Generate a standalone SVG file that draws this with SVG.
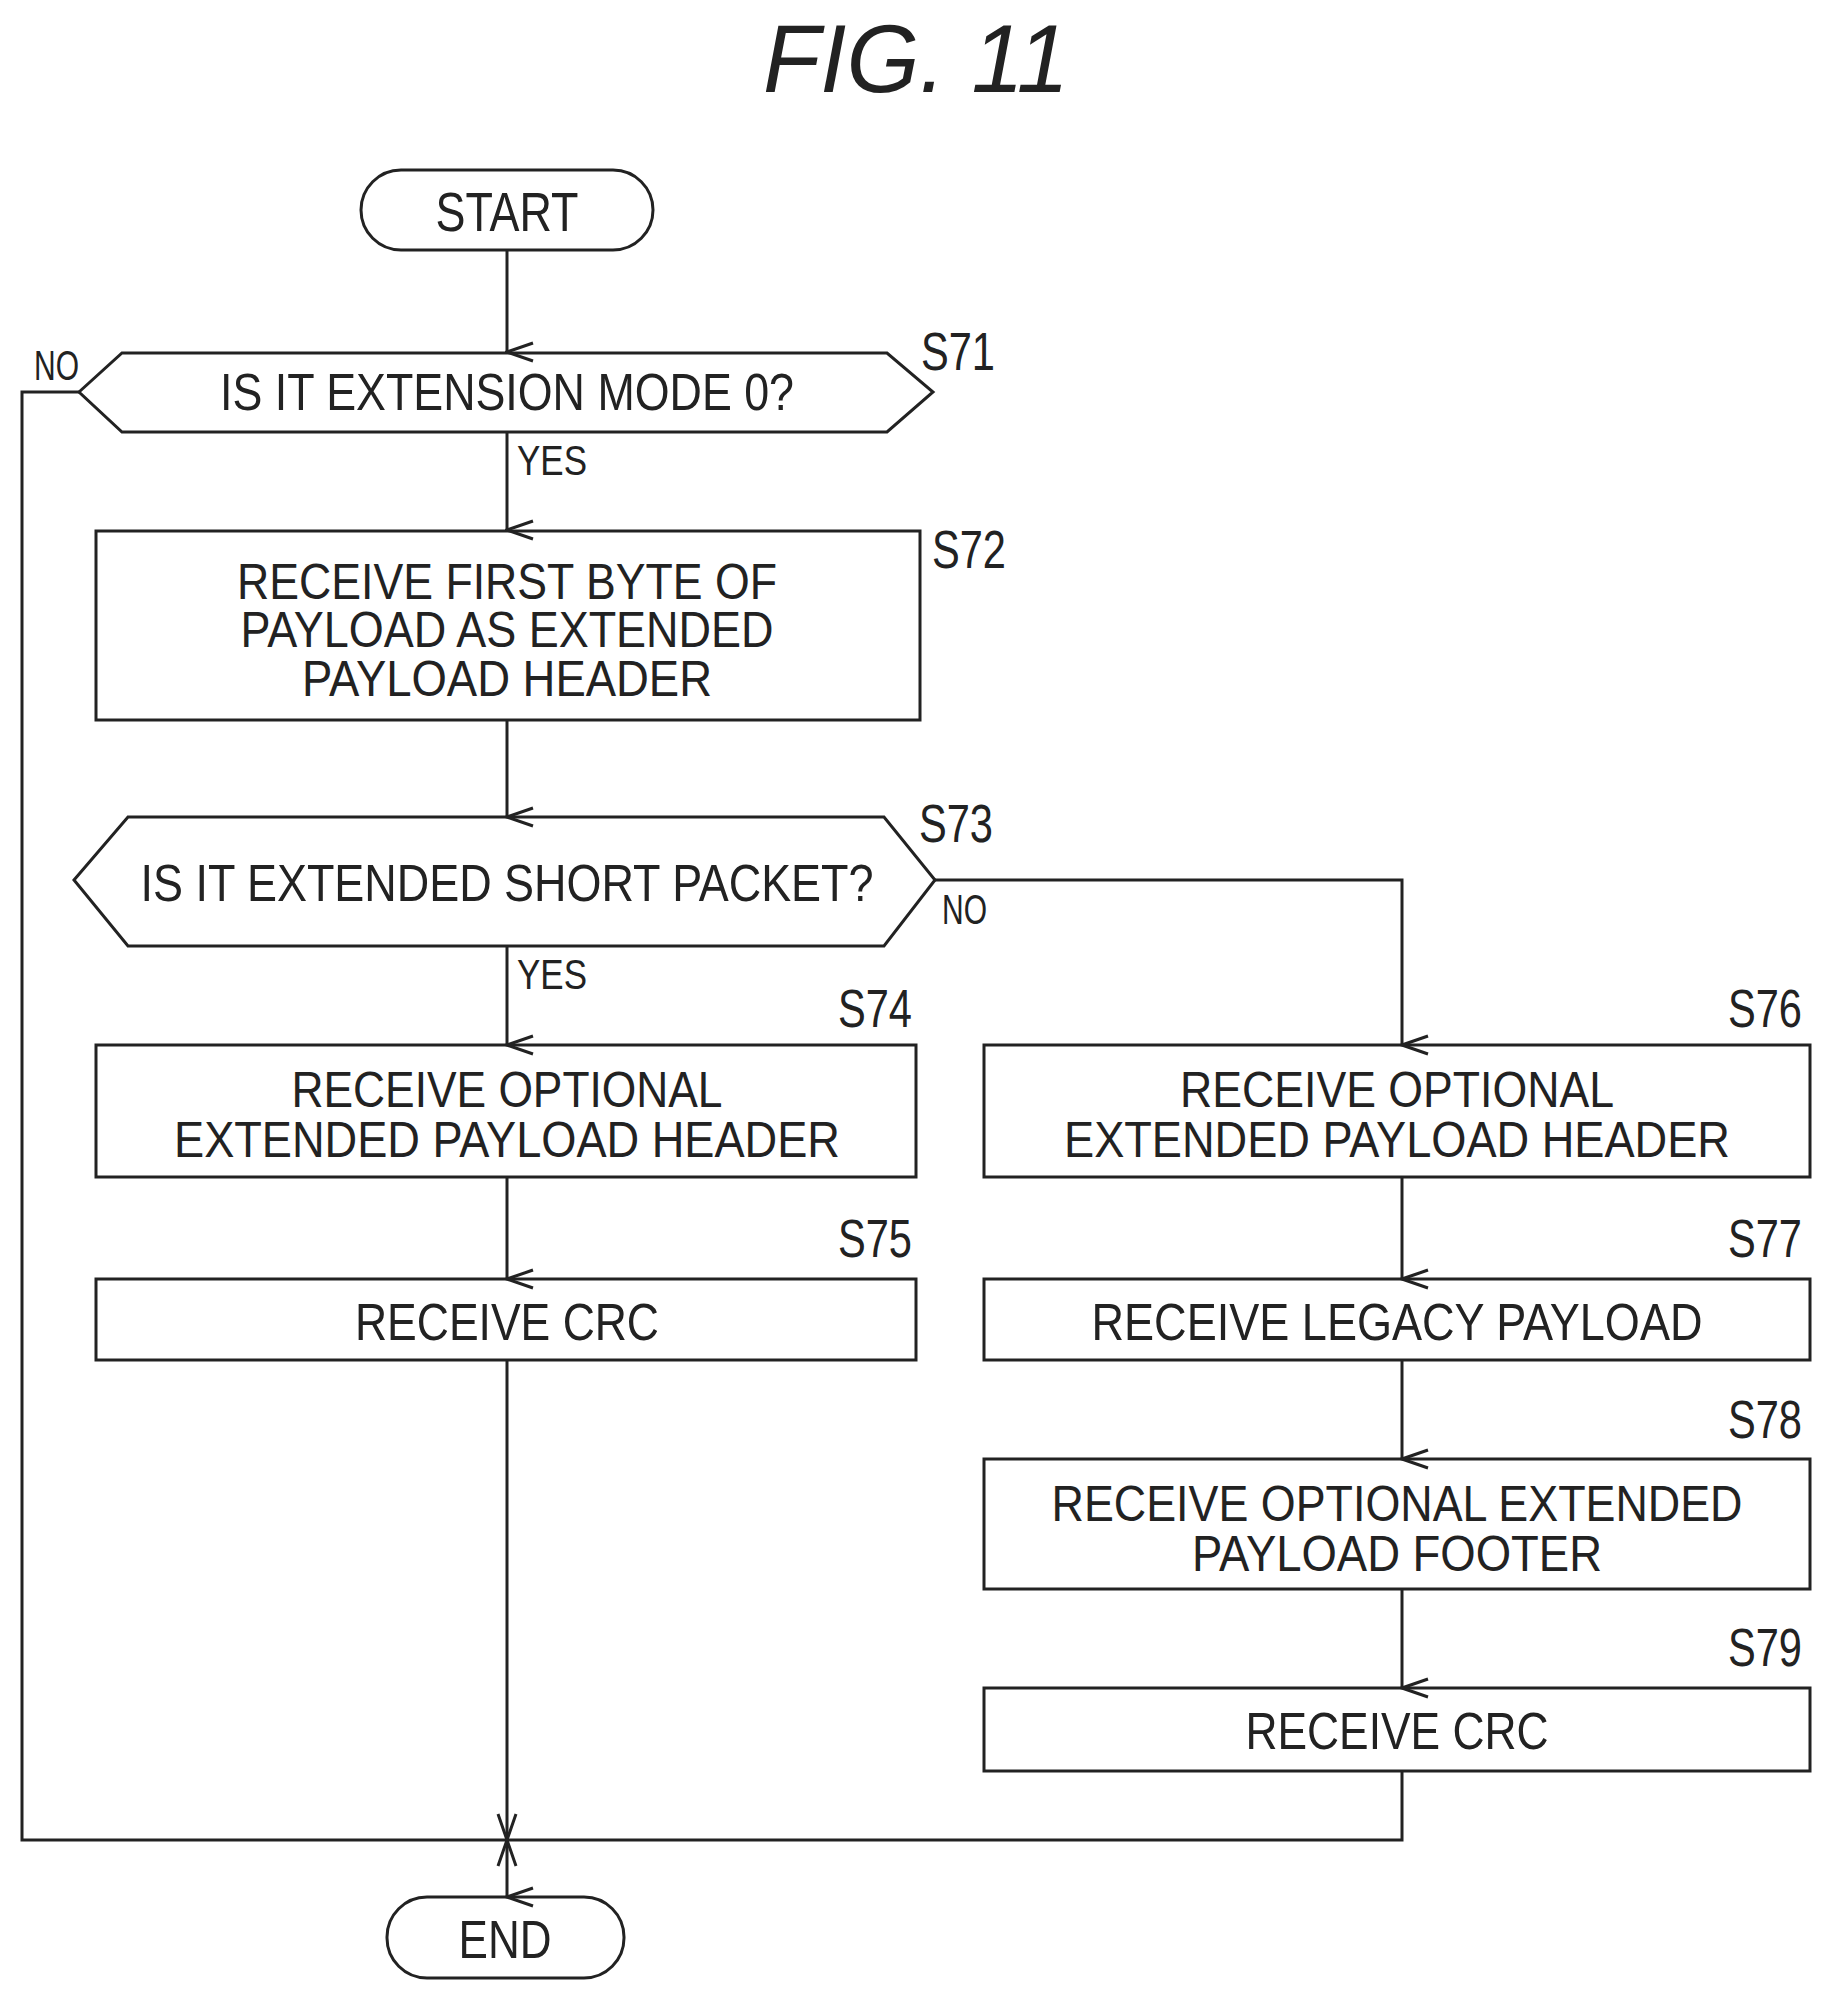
<svg xmlns="http://www.w3.org/2000/svg" width="1838" height="2012" viewBox="0 0 1838 2012">
<style>
.s{fill:none;stroke:#222;stroke-width:3}
.t{font-family:"Liberation Sans",Arial,sans-serif;font-size:50px;fill:#222;text-anchor:middle}
.l{font-family:"Liberation Sans",Arial,sans-serif;font-size:54px;fill:#222}
</style>
<defs>
<marker id="a" markerWidth="30" markerHeight="30" refX="15" refY="28" orient="auto-start-reverse" markerUnits="userSpaceOnUse" viewBox="0 0 30 30">
<polyline points="6,2 15,28 24,2" fill="none" stroke="#222" stroke-width="3"/>
</marker>
</defs>
<rect width="1838" height="2012" fill="#fff"/>
<text x="916" y="92" style="font-family:'Liberation Sans',Arial,sans-serif;font-size:96px;font-style:italic;fill:#222;text-anchor:middle" textLength="306" lengthAdjust="spacingAndGlyphs">FIG. 11</text>
<g id="connectors">
<path class="s" d="M507 250V352" marker-end="url(#a)"/>
<path class="s" d="M507 432V530" marker-end="url(#a)"/>
<path class="s" d="M507 720V817" marker-end="url(#a)"/>
<path class="s" d="M507 946V1045" marker-end="url(#a)"/>
<path class="s" d="M507 1177V1279" marker-end="url(#a)"/>
<path class="s" d="M507 1360V1897" marker-end="url(#a)"/>
<path class="s" d="M79 392H22V1840H507" marker-end="url(#a)"/>
<path class="s" d="M1402 1771V1840H507" marker-end="url(#a)"/>
<path class="s" d="M935 880H1402V1045" marker-end="url(#a)"/>
<path class="s" d="M1402 1177V1279" marker-end="url(#a)"/>
<path class="s" d="M1402 1360V1459" marker-end="url(#a)"/>
<path class="s" d="M1402 1589V1688" marker-end="url(#a)"/>
<text class="l" x="34" y="380" textLength="45" lengthAdjust="spacingAndGlyphs" style="font-size:42px">NO</text>
<text class="l" x="517" y="475" textLength="70" lengthAdjust="spacingAndGlyphs" style="font-size:42px">YES</text>
<text class="l" x="942" y="924" textLength="45" lengthAdjust="spacingAndGlyphs" style="font-size:42px">NO</text>
<text class="l" x="517" y="989" textLength="70" lengthAdjust="spacingAndGlyphs" style="font-size:42px">YES</text>
</g>
<g id="start">
<rect class="s" x="361" y="170" width="292" height="80" rx="40"/>
<text class="t" x="507" y="231" textLength="143" lengthAdjust="spacingAndGlyphs" style="font-size:56px">START</text>
</g>
<g id="s71">
<polygon class="s" points="79,392 122,353 887,353 933,392 887,432 122,432"/>
<text class="t" x="507" y="410" textLength="574" lengthAdjust="spacingAndGlyphs" style="font-size:52px">IS IT EXTENSION MODE 0?</text>
<text class="l" x="921" y="370" textLength="74" lengthAdjust="spacingAndGlyphs">S71</text>
</g>
<g id="s72">
<rect class="s" x="96" y="531" width="824" height="189"/>
<text class="t" x="507" y="599" textLength="540" lengthAdjust="spacingAndGlyphs">RECEIVE FIRST BYTE OF</text>
<text class="t" x="507" y="647" textLength="533" lengthAdjust="spacingAndGlyphs">PAYLOAD AS EXTENDED</text>
<text class="t" x="507" y="696" textLength="410" lengthAdjust="spacingAndGlyphs">PAYLOAD HEADER</text>
<text class="l" x="932" y="568" textLength="74" lengthAdjust="spacingAndGlyphs">S72</text>
</g>
<g id="s73">
<polygon class="s" points="74,880 128,817 884,817 935,880 884,946 128,946"/>
<text class="t" x="507" y="901" textLength="733" lengthAdjust="spacingAndGlyphs" style="font-size:52px">IS IT EXTENDED SHORT PACKET?</text>
<text class="l" x="919" y="842" textLength="74" lengthAdjust="spacingAndGlyphs">S73</text>
</g>
<g id="s74">
<rect class="s" x="96" y="1045" width="820" height="132"/>
<text class="t" x="507" y="1107" textLength="431" lengthAdjust="spacingAndGlyphs">RECEIVE OPTIONAL</text>
<text class="t" x="507" y="1157" textLength="666" lengthAdjust="spacingAndGlyphs">EXTENDED PAYLOAD HEADER</text>
<text class="l" x="912" y="1027" style="text-anchor:end" textLength="74" lengthAdjust="spacingAndGlyphs">S74</text>
</g>
<g id="s75">
<rect class="s" x="96" y="1279" width="820" height="81"/>
<text class="t" x="507" y="1340" textLength="304" lengthAdjust="spacingAndGlyphs" style="font-size:52px">RECEIVE CRC</text>
<text class="l" x="912" y="1257" style="text-anchor:end" textLength="74" lengthAdjust="spacingAndGlyphs">S75</text>
</g>
<g id="s76">
<rect class="s" x="984" y="1045" width="826" height="132"/>
<text class="t" x="1397" y="1107" textLength="434" lengthAdjust="spacingAndGlyphs">RECEIVE OPTIONAL</text>
<text class="t" x="1397" y="1157" textLength="666" lengthAdjust="spacingAndGlyphs">EXTENDED PAYLOAD HEADER</text>
<text class="l" x="1802" y="1027" style="text-anchor:end" textLength="74" lengthAdjust="spacingAndGlyphs">S76</text>
</g>
<g id="s77">
<rect class="s" x="984" y="1279" width="826" height="81"/>
<text class="t" x="1397" y="1340" textLength="611" lengthAdjust="spacingAndGlyphs" style="font-size:52px">RECEIVE LEGACY PAYLOAD</text>
<text class="l" x="1802" y="1257" style="text-anchor:end" textLength="74" lengthAdjust="spacingAndGlyphs">S77</text>
</g>
<g id="s78">
<rect class="s" x="984" y="1459" width="826" height="130"/>
<text class="t" x="1397" y="1521" textLength="691" lengthAdjust="spacingAndGlyphs">RECEIVE OPTIONAL EXTENDED</text>
<text class="t" x="1397" y="1571" textLength="410" lengthAdjust="spacingAndGlyphs">PAYLOAD FOOTER</text>
<text class="l" x="1802" y="1438" style="text-anchor:end" textLength="74" lengthAdjust="spacingAndGlyphs">S78</text>
</g>
<g id="s79">
<rect class="s" x="984" y="1688" width="826" height="83"/>
<text class="t" x="1397" y="1749" textLength="303" lengthAdjust="spacingAndGlyphs" style="font-size:52px">RECEIVE CRC</text>
<text class="l" x="1802" y="1666" style="text-anchor:end" textLength="74" lengthAdjust="spacingAndGlyphs">S79</text>
</g>
<g id="end">
<rect class="s" x="387" y="1897" width="237" height="81" rx="40"/>
<text class="t" x="505" y="1958" textLength="93" lengthAdjust="spacingAndGlyphs" style="font-size:54px">END</text>
</g>
</svg>
